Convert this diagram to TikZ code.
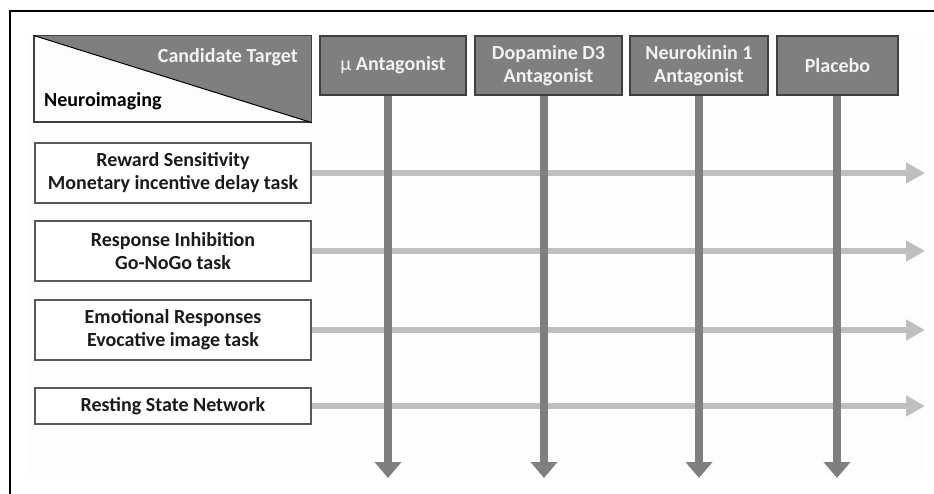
\documentclass[tikz,border=0pt]{standalone}
\usepackage{fontspec}
\setmainfont{Carlito}
\usetikzlibrary{arrows.meta}
\definecolor{boxgray}{HTML}{7F7F7F}
\definecolor{edgegray}{HTML}{404040}
\definecolor{rowedge}{HTML}{595959}
\definecolor{hline}{HTML}{BFBFBF}
\definecolor{vline}{HTML}{7F7F7F}
\definecolor{panel}{HTML}{FDFDFD}
\definecolor{txtdark}{HTML}{1A1A1A}
\definecolor{txtlight}{HTML}{F2F2F2}
\begin{document}
\begin{tikzpicture}[x=1pt,y=-1pt,
  colbox/.style={draw=edgegray, line width=1.2pt, fill=boxgray, text=txtlight,
    font=\fontsize{20}{23}\selectfont\bfseries, align=center, inner sep=0pt, minimum height=59pt},
  rowbox/.style={draw=rowedge, line width=1.2pt, fill=white, text=txtdark,
    font=\fontsize{20}{23}\selectfont\bfseries, align=center, inner sep=0pt, minimum width=276pt},
  harrow/.style={draw=hline, line width=6pt, -{Triangle[width=20pt,length=19pt]}},
  varrow/.style={draw=vline, line width=8pt, -{Triangle[width=26pt,length=16pt]}}]
\useasboundingbox (0,0) rectangle (934,494);
\fill[white] (0,0) rectangle (934,494);
\fill[panel] (30,33) rectangle (926,478);
\draw[black, line width=1.3pt] (10,494) -- (10,11) -- (934,11);

% header
\node[draw=edgegray, line width=1.2pt, minimum width=277pt, minimum height=86pt, inner sep=0pt] (hdr) at (172.5,79) {};
\fill[boxgray] (hdr.north west) -- (hdr.north east) -- (hdr.south east) -- cycle;
\draw[edgegray, line width=1.2pt] (hdr.north west) rectangle (hdr.south east);
\draw[black, line width=1pt] (hdr.north west) -- (hdr.south east);
\node[anchor=east, text=txtlight, font=\fontsize{20}{23}\selectfont\bfseries, inner sep=0pt] (ct) at (298,57) {Candidate Target};
\node[anchor=west, text=black, font=\fontsize{20}{23}\selectfont\bfseries, inner sep=0pt] (ni) at (44,101) {Neuroimaging};

% column boxes
\node[colbox, minimum width=146pt] (mu) at (393,65.5) {\mdseries μ \bfseries Antagonist};
\node[colbox, minimum width=147pt] (d3) at (548.5,65.5) {Dopamine D3\\Antagonist};
\node[colbox, minimum width=138pt] (nk) at (699,65.5) {Neurokinin 1\\Antagonist};
\node[colbox, minimum width=121pt] (pl) at (837.5,65.5) {Placebo};

% row boxes
\node[rowbox, minimum height=60pt] (rw) at (173,173) {Reward Sensitivity\\Monetary incentive delay task};
\node[rowbox, minimum height=60pt] (ri) at (173,251) {Response Inhibition\\Go-NoGo task};
\node[rowbox, minimum height=60pt] (er) at (173,330) {Emotional Responses\\Evocative image task};
\node[rowbox, minimum height=36pt] (rs) at (173,406) {Resting State Network};

% arrow ends
\coordinate (h1) at (925,173);
\coordinate (h2) at (925,251);
\coordinate (h3) at (925,330);
\coordinate (h4) at (925,406);
\coordinate (v1) at (388,478);
\coordinate (v2) at (544,478);
\coordinate (v3) at (699,478);
\coordinate (v4) at (837,478);

\draw[harrow] (rw.east) -- (h1);
\draw[harrow] (ri.east) -- (h2);
\draw[harrow] (er.east) -- (h3);
\draw[harrow] (rs.east) -- (h4);

\draw[varrow] (mu.south -| v1) -- (v1);
\draw[varrow] (d3.south -| v2) -- (v2);
\draw[varrow] (nk.south -| v3) -- (v3);
\draw[varrow] (pl.south -| v4) -- (v4);
\end{tikzpicture}
\end{document}
